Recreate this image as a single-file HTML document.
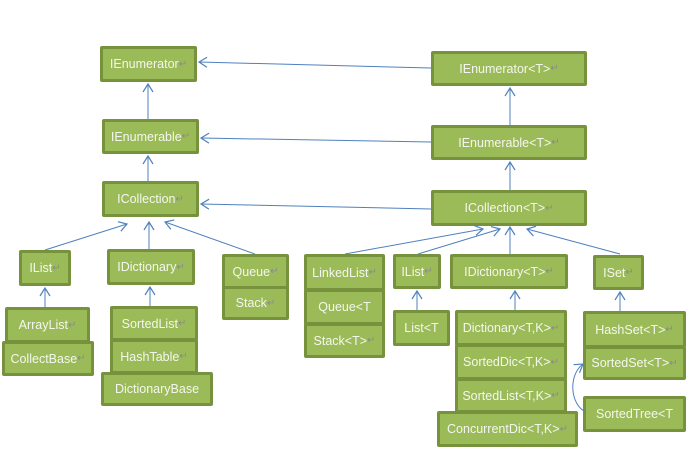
<!DOCTYPE html>
<html><head><meta charset="utf-8"><style>
body{margin:0;width:697px;height:466px;background:#fff;position:relative;overflow:hidden;font-family:"Liberation Sans",sans-serif}
.b{position:absolute;box-sizing:border-box;background:#9bbb59;border:3px solid #76923c;border-radius:2px;color:#f4f6ee;font-size:12.5px;display:flex;align-items:center;justify-content:center;white-space:nowrap}
.p{color:#8a8a8a;font-size:10px}
svg{position:absolute;left:0;top:0;z-index:5}
</style></head><body>
<svg width="697" height="466" fill="none" stroke="#4f81bd" stroke-width="1">
<defs><marker id="a" markerWidth="14" markerHeight="14" refX="9" refY="7" orient="auto" markerUnits="userSpaceOnUse"><path d="M1,2 L9,7 L1,12" stroke="#4f81bd" stroke-width="1.2" fill="none"/></marker></defs>
<g marker-end="url(#a)">
<path d="M431,68 L199,62"/><path d="M431,142 L201,138"/><path d="M431,209 L201,204"/>
<path d="M148,119 L148,84"/><path d="M148,181 L148,156"/>
<path d="M510,125 L510,88"/><path d="M510,190 L510,162"/>
<path d="M45,250 L127,224"/><path d="M149,249 L149,222"/><path d="M255,254 L165,222"/>
<path d="M345,254 L483,229"/><path d="M418,254 L500,229"/><path d="M510,254 L510,227"/><path d="M620,254 L527,229"/>
<path d="M417,310 L417,291"/><path d="M515,310 L515,291"/><path d="M620,311 L620,292"/>
<path d="M45,307 L45,288"/><path d="M150,306 L150,287"/>
<path d="M586,412 C570,405 568,375 583,364"/>
</g></svg>
<div class="b" style="left:100px;top:46px;width:97px;height:36px">IEnumerator<span class="p">↵</span></div>
<div class="b" style="left:102px;top:119px;width:97px;height:35px">IEnumerable<span class="p">↵</span></div>
<div class="b" style="left:102px;top:181px;width:97px;height:36px">ICollection<span class="p">↵</span></div>
<div class="b" style="left:431px;top:51px;width:156px;height:35px">IEnumerator&lt;T&gt;<span class="p">↵</span></div>
<div class="b" style="left:431px;top:125px;width:156px;height:35px">IEnumerable&lt;T&gt;<span class="p">↵</span></div>
<div class="b" style="left:431px;top:190px;width:156px;height:36px">ICollection&lt;T&gt;<span class="p">↵</span></div>
<div class="b" style="left:19px;top:250px;width:52px;height:36px">IList<span class="p">↵</span></div>
<div class="b" style="left:107px;top:249px;width:88px;height:36px">IDictionary<span class="p">↵</span></div>
<div class="b" style="left:222px;top:254px;width:67px;height:35px">Queue<span class="p">↵</span></div>
<div class="b" style="left:222px;top:286px;width:67px;height:34px">Stack<span class="p">↵</span></div>
<div class="b" style="left:5px;top:307px;width:85px;height:36px">ArrayList<span class="p">↵</span></div>
<div class="b" style="left:2px;top:341px;width:92px;height:35px">CollectBase<span class="p">↵</span></div>
<div class="b" style="left:110px;top:306px;width:88px;height:35px">SortedList<span class="p">↵</span></div>
<div class="b" style="left:110px;top:339px;width:88px;height:35px">HashTable<span class="p">↵</span></div>
<div class="b" style="left:101px;top:372px;width:112px;height:34px">DictionaryBase</div>
<div class="b" style="left:304px;top:254px;width:81px;height:37px">LinkedList<span class="p">↵</span></div>
<div class="b" style="left:304px;top:289px;width:81px;height:36px">Queue&lt;T</div>
<div class="b" style="left:304px;top:323px;width:81px;height:35px">Stack&lt;T&gt;<span class="p">↵</span></div>
<div class="b" style="left:393px;top:254px;width:48px;height:35px">IList<span class="p">↵</span></div>
<div class="b" style="left:393px;top:310px;width:57px;height:36px">List&lt;T</div>
<div class="b" style="left:450px;top:254px;width:118px;height:35px">IDictionary&lt;T&gt;<span class="p">↵</span></div>
<div class="b" style="left:593px;top:255px;width:51px;height:35px">ISet<span class="p">↵</span></div>
<div class="b" style="left:455px;top:310px;width:112px;height:36px">Dictionary&lt;T,K&gt;<span class="p">↵</span></div>
<div class="b" style="left:455px;top:344px;width:112px;height:36px">SortedDic&lt;T,K&gt;<span class="p">↵</span></div>
<div class="b" style="left:455px;top:378px;width:112px;height:35px">SortedList&lt;T,K&gt;<span class="p">↵</span></div>
<div class="b" style="left:437px;top:411px;width:141px;height:36px">ConcurrentDic&lt;T,K&gt;<span class="p">↵</span></div>
<div class="b" style="left:583px;top:311px;width:103px;height:37px">HashSet&lt;T&gt;<span class="p">↵</span></div>
<div class="b" style="left:583px;top:346px;width:103px;height:34px">SortedSet&lt;T&gt;<span class="p">↵</span></div>
<div class="b" style="left:583px;top:396px;width:103px;height:36px">SortedTree&lt;T</div>
</body></html>
